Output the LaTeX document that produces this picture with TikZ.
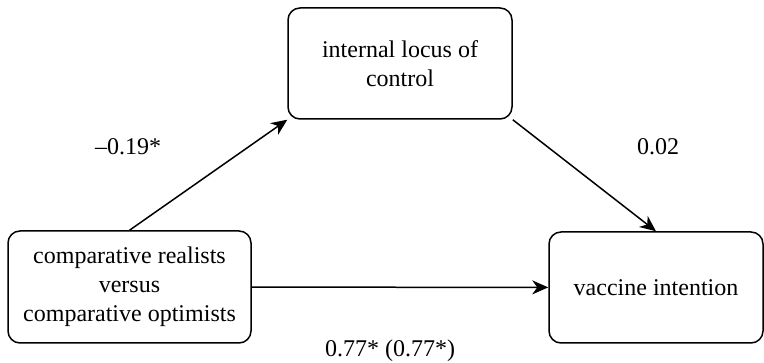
\documentclass[tikz,border=0pt]{standalone}
\usepackage{fontspec}
\setmainfont{Liberation Serif}
\usetikzlibrary{arrows.meta}

\begin{document}
\begin{tikzpicture}[x=0.5pt, y=0.5pt, line width=0.75pt, >={Stealth[length=8pt, width=7pt, inset=2.5pt]},
	main/.style = {draw, rounded corners=6pt, align=center, font=\fontsize{12}{14.5}\selectfont},
	lbl/.style = {font=\fontsize{12}{14.5}\selectfont}]
		\useasboundingbox (0,0) rectangle (764,363);
		\node[main, minimum width=112pt, minimum height=55.5pt] (ilc) at (400,299.5) {internal locus of\\control};
		\node[main, minimum width=121.5pt, minimum height=56pt] (cmp) at (129.5,76) {comparative realists\\versus\\comparative optimists};
		\node[main, minimum width=107pt, minimum height=55.5pt] (vac) at (656,75.5) {vaccine intention};
		\node[lbl] (a) at (128,216) {–0.19*};
		\node[lbl] (b) at (658,216) {0.02};
		\node[lbl] (c) at (390,12) {0.77* (0.77*)};
		
		\draw[->] (cmp.north) -- (ilc.south west);
		\draw[->] (ilc.south east) -- (vac.north);
		\draw[->] (cmp) -- (vac);
	\end{tikzpicture}
\end{document}
